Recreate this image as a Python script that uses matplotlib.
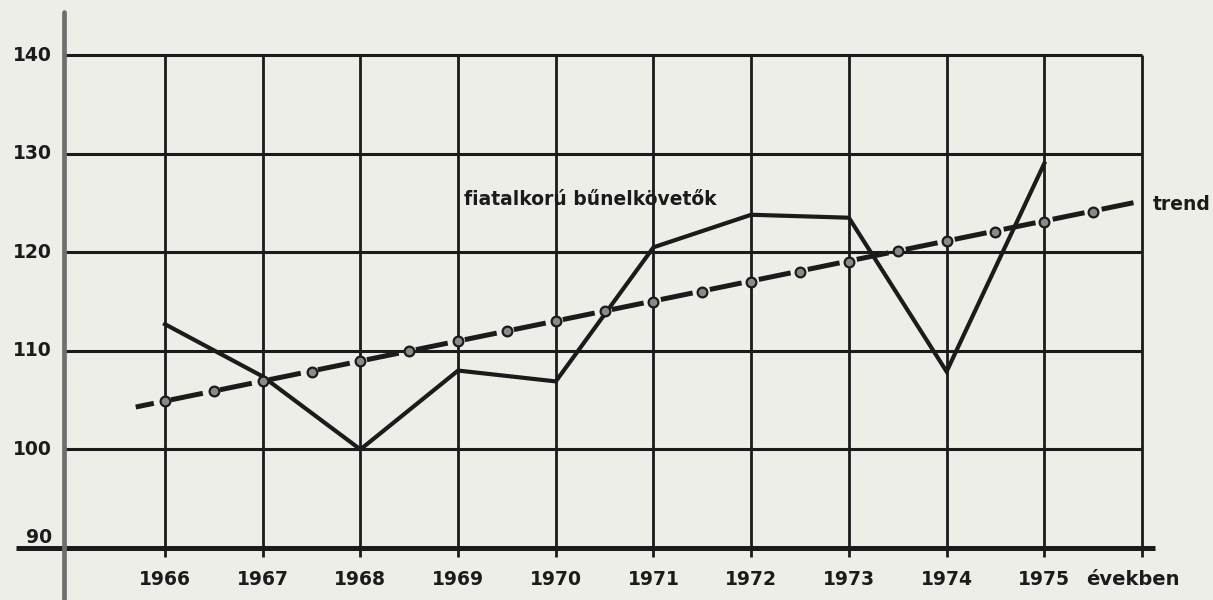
import matplotlib
matplotlib.use("Agg")
import matplotlib.pyplot as plt

# --- data ---
years = [1966, 1967, 1968, 1969, 1970, 1971, 1972, 1973, 1974, 1975]
offenders = [112.7, 107.4, 100.0, 108.0, 106.9, 120.5, 123.8, 123.5, 107.9, 129.0]

trend_dot_years = [1966, 1966.5, 1967, 1967.5, 1968, 1968.5, 1969, 1969.5, 1970, 1970.5,
                   1971, 1971.5, 1972, 1972.5, 1973, 1973.5, 1974, 1974.5, 1975, 1975.5]
trend_dot_values = [104.9, 105.9, 106.9, 107.9, 109.0, 110.0, 111.0, 112.0, 113.0, 114.0,
                    115.0, 116.0, 117.0, 118.0, 119.0, 120.1, 121.1, 122.1, 123.1, 124.1]
trend_line_years = [1965.7, 1976.0]
trend_line_values = [104.3, 125.2]

y_ticks = [90, 100, 110, 120, 130, 140]
x_grid = [1966, 1967, 1968, 1969, 1970, 1971, 1972, 1973, 1974, 1975, 1976]
year_labels = ["1966", "1967", "1968", "1969", "1970",
               "1971", "1972", "1973", "1974", "1975"]

BG = "#eeeee9"
INK = "#1b1b1b"
SPINE_X = 1964.97

fig = plt.figure(figsize=(12.13, 6.0), dpi=100, facecolor=BG)
ax = fig.add_axes([0, 0, 1, 1])
ax.set_facecolor(BG)
ax.axis("off")
ax.set_xlim(1964.311, 1976.727)
ax.set_ylim(84.73, 145.58)

# grid
ax.hlines(y_ticks[1:], SPINE_X, x_grid[-1], color=INK, lw=2.2, zorder=1)
ax.vlines(x_grid, 89.1, y_ticks[-1], color=INK, lw=2.0, zorder=1)

# axes
ax.plot([SPINE_X - 0.5, 1976.13], [90, 90], color=INK, lw=3.6, solid_capstyle="butt", zorder=2)
ax.plot([SPINE_X, SPINE_X], [84.73, 144.4], color="#6f6f6f", lw=3.4,
        solid_capstyle="round", zorder=2)

# y labels
for v in y_ticks:
    yy = v + 1.1 if v == 90 else v
    ax.text(SPINE_X - 0.13, yy, str(v), ha="right", va="center", fontsize=13.5,
            fontweight="bold", color=INK)

# x labels
for yr, lab in zip(years, year_labels):
    ax.text(yr, 86.8, lab, ha="center", va="center", fontsize=13.5,
            fontweight="bold", color=INK)
ax.text(1975.43, 86.8, "években", ha="left", va="center", fontsize=14,
        fontweight="bold", color=INK)

# series
ax.plot(years, offenders, color=INK, lw=3.0, solid_joinstyle="miter", zorder=4)

ax.plot(trend_line_years, trend_line_values, color=INK, lw=3.6,
        linestyle=(2.8, (6.5, 3.5)), dash_capstyle="butt", zorder=3)
ax.plot(trend_dot_years, trend_dot_values, linestyle="none", marker="o",
        markersize=7, markerfacecolor="#8a8a8a", markeredgecolor=INK,
        markeredgewidth=1.6, zorder=5)

ax.text(1969.06, 125.3, "fiatalkorú bűnelkövetők", ha="left", va="center",
        fontsize=13.5, fontweight="bold", color=INK)
ax.text(1976.11, 124.8, "trend", ha="left", va="center", fontsize=13.5,
        fontweight="bold", color=INK)

fig.savefig("out.png", dpi=100, facecolor=BG)
